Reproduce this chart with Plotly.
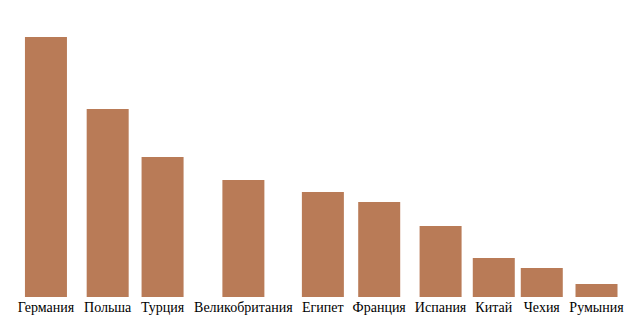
import plotly.graph_objects as go

# Data
countries = ["Германия", "Польша", "Турция", "Великобритания", "Египет",
             "Франция", "Испания", "Китай", "Чехия", "Румыния"]
values = [260, 188, 140, 117, 105, 95, 71, 39, 29, 13]

# Approximate serif (Times-like) glyph widths in em, used to lay out slots
CHAR_EM = {
    "Г": .578, "П": .722, "Т": .611, "В": .667, "Е": .611, "Ф": .76, "И": .722,
    "К": .667, "Ч": .667, "Р": .556,
    "а": .444, "б": .5, "в": .47, "г": .41, "д": .5, "е": .444, "и": .535,
    "й": .535, "к": .486, "л": .5, "м": .62, "н": .535, "о": .5, "п": .535,
    "р": .5, "с": .444, "т": .437, "у": .5, "ф": .65, "х": .5, "ц": .535,
    "ч": .5, "ш": .77, "щ": .77, "ы": .68, "ь": .46, "я": .48,
}
FONT_PX = 14
FONT_FAMILY = "'Times New Roman', 'Liberation Serif', serif"
BAR_W = 42
LABEL_GAP = 9
BAR_GAP = 6
LEFT_PAD = 17


def text_w(s):
    return sum(CHAR_EM.get(ch, .5) for ch in s) * FONT_PX


widths = [text_w(c) for c in countries]
positions = []
for i, w in enumerate(widths):
    if i == 0:
        positions.append(LEFT_PAD + max(w, BAR_W) / 2)
    else:
        step = max((widths[i - 1] + w) / 2 + LABEL_GAP, BAR_W + BAR_GAP)
        positions.append(positions[-1] + step)

fig = go.Figure(go.Bar(
    x=positions, y=values, width=BAR_W,
    marker=dict(color="#b97b57", line=dict(width=0)),
    hoverinfo="skip",
))

fig.update_layout(
    width=640, height=315,
    margin=dict(l=0, r=0, t=0, b=18, pad=0),
    paper_bgcolor="white", plot_bgcolor="white",
    showlegend=False,
    font=dict(family=FONT_FAMILY, size=FONT_PX, color="black"),
)
fig.update_xaxes(
    range=[0, 640], tickmode="array", tickvals=positions, ticktext=countries,
    showgrid=False, zeroline=False, showline=False, ticks="", automargin=False,
    tickfont=dict(family=FONT_FAMILY, size=FONT_PX, color="black"),
)
fig.update_yaxes(
    range=[0, 297], showgrid=False, zeroline=False, showline=False,
    showticklabels=False, ticks="", automargin=False,
)

fig.write_html("out.html")
